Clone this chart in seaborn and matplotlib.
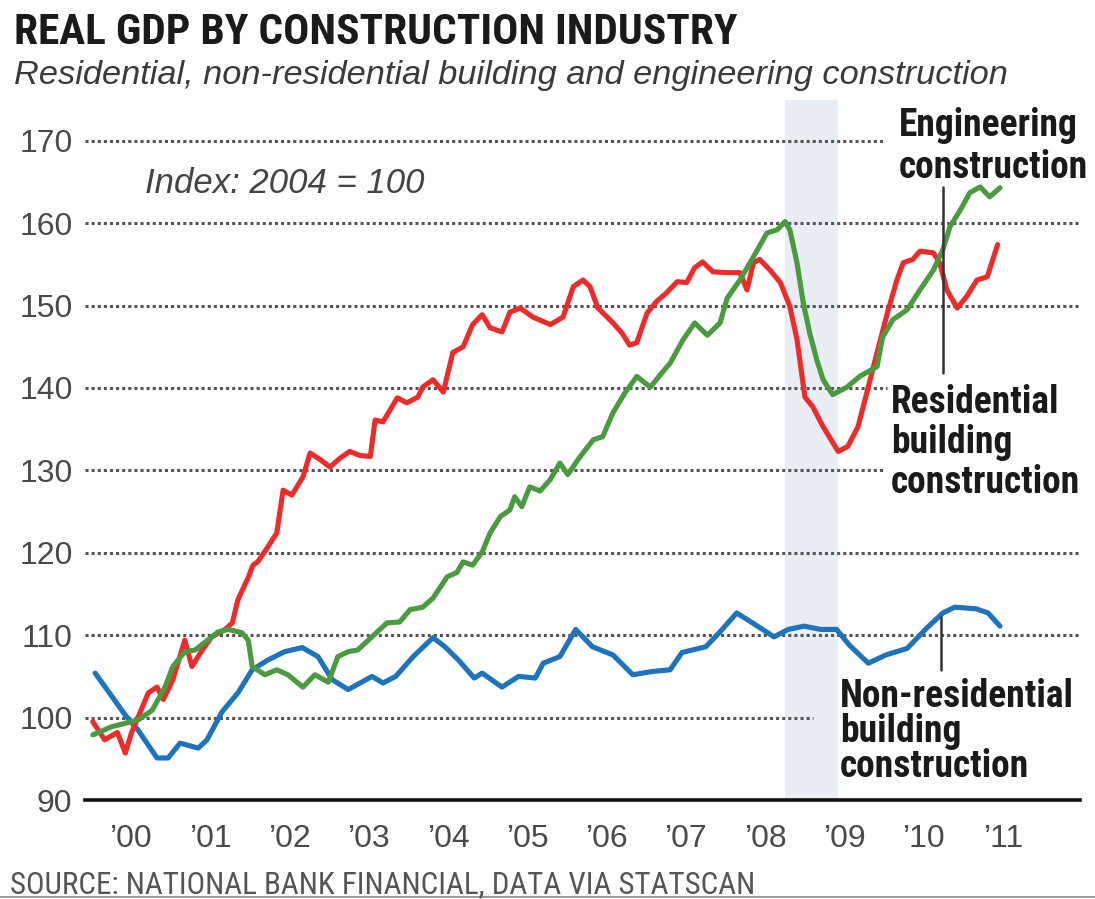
import numpy as np
import matplotlib
matplotlib.use('Agg')
import matplotlib.pyplot as plt
from matplotlib import font_manager as fm
from matplotlib.lines import Line2D
import seaborn as sns

# values (decimal years, index 2004 = 100)
res_t = [2000.01, 2000.16, 2000.32, 2000.42, 2000.50, 2000.61, 2000.71, 2000.82, 2000.90, 2001.02,
         2001.17, 2001.26, 2001.39, 2001.51, 2001.68, 2001.77, 2001.84, 2001.97, 2002.03, 2002.09,
         2002.21, 2002.33, 2002.41, 2002.52, 2002.66, 2002.75, 2002.88, 2003.00, 2003.13, 2003.25,
         2003.38, 2003.51, 2003.57, 2003.67, 2003.85, 2003.97, 2004.11, 2004.17, 2004.30, 2004.43,
         2004.55, 2004.68, 2004.80, 2004.92, 2005.02, 2005.17, 2005.27, 2005.40, 2005.56, 2005.78,
         2005.94, 2006.07, 2006.19, 2006.28, 2006.38, 2006.57, 2006.68, 2006.78, 2006.87, 2007.00,
         2007.12, 2007.25, 2007.38, 2007.50, 2007.60, 2007.70, 2007.83, 2008.01, 2008.17, 2008.26,
         2008.34, 2008.42, 2008.55, 2008.68, 2008.80, 2008.89, 2008.99, 2009.09, 2009.22, 2009.41,
         2009.53, 2009.66, 2009.77, 2009.90, 2010.03, 2010.15, 2010.23, 2010.35, 2010.44, 2010.61,
         2010.69, 2010.78, 2010.91, 2011.03, 2011.16, 2011.29, 2011.36, 2011.42]
res_v = [99.5, 97.3, 98.2, 95.7, 98.2, 100.7, 103.0, 103.7, 102.2, 104.6,
         109.4, 106.2, 108.2, 109.8, 110.7, 111.5, 114.3, 117.0, 118.5, 118.9,
         120.6, 122.4, 127.6, 127.0, 129.2, 132.1, 131.3, 130.4, 131.5, 132.3,
         131.8, 131.7, 136.1, 135.9, 138.8, 138.2, 138.9, 140.1, 141.0, 139.5,
         144.3, 145.0, 147.7, 148.9, 147.3, 146.8, 149.2, 149.7, 148.6, 147.7,
         148.6, 152.3, 153.1, 152.3, 149.7, 147.9, 146.7, 145.2, 145.5, 149.1,
         150.5, 151.6, 152.9, 152.8, 154.6, 155.3, 154.1, 154.0, 154.0, 151.9,
         155.2, 155.6, 154.3, 152.8, 149.9, 145.9, 138.9, 137.7, 135.3, 132.3,
         132.9, 135.3, 139.4, 144.3, 149.1, 153.1, 155.2, 155.6, 156.6, 156.4,
         155.2, 151.9, 149.7, 151.1, 153.1, 153.5, 155.6, 157.4]

eng_t = [2000.01, 2000.25, 2000.58, 2000.76, 2000.92, 2001.02, 2001.17, 2001.30, 2001.42, 2001.59,
         2001.72, 2001.89, 2001.97, 2002.02, 2002.18, 2002.33, 2002.47, 2002.66, 2002.81, 2002.98,
         2003.10, 2003.23, 2003.35, 2003.53, 2003.72, 2003.88, 2004.01, 2004.17, 2004.30, 2004.48,
         2004.60, 2004.68, 2004.80, 2004.92, 2005.02, 2005.15, 2005.27, 2005.33, 2005.42, 2005.52,
         2005.65, 2005.78, 2005.90, 2006.00, 2006.15, 2006.32, 2006.44, 2006.57, 2006.72, 2006.87,
         2007.04, 2007.20, 2007.29, 2007.45, 2007.60, 2007.76, 2007.92, 2008.01, 2008.17, 2008.34,
         2008.51, 2008.64, 2008.74, 2008.80, 2008.89, 2008.97, 2009.05, 2009.14, 2009.22, 2009.34,
         2009.52, 2009.68, 2009.90, 2009.97, 2010.10, 2010.28, 2010.44, 2010.61, 2010.73, 2010.82,
         2010.95, 2011.07, 2011.20, 2011.32, 2011.45]
eng_v = [97.9, 98.9, 99.7, 100.9, 103.7, 106.2, 108.0, 108.2, 109.1, 110.4,
         110.7, 110.3, 109.4, 106.2, 105.2, 105.8, 105.2, 103.7, 105.2, 104.3,
         107.4, 108.0, 108.2, 109.8, 111.5, 111.6, 113.1, 113.4, 114.5, 117.1,
         117.6, 118.9, 118.5, 120.1, 122.4, 124.4, 125.2, 126.8, 125.6, 128.0,
         127.5, 128.9, 130.9, 129.5, 131.6, 133.7, 134.1, 137.0, 139.4, 141.4,
         140.1, 142.0, 143.0, 145.8, 147.9, 146.4, 147.9, 150.9, 153.1, 155.9,
         158.8, 159.2, 160.2, 159.2, 155.2, 150.3, 146.7, 143.4, 141.0, 139.2,
         140.1, 141.4, 142.6, 146.2, 148.3, 149.5, 151.9, 154.3, 156.8, 159.6,
         161.6, 163.7, 164.4, 163.2, 164.3]

nonres_t = [2000.04, 2000.42, 2000.58, 2000.82, 2000.96, 2001.11, 2001.34, 2001.45, 2001.64, 2001.84,
            2002.02, 2002.22, 2002.43, 2002.65, 2002.85, 2003.03, 2003.23, 2003.40, 2003.53, 2003.67,
            2003.83, 2004.05, 2004.30, 2004.45, 2004.62, 2004.82, 2004.92, 2005.17, 2005.38, 2005.59,
            2005.69, 2005.90, 2006.10, 2006.31, 2006.57, 2006.82, 2007.07, 2007.29, 2007.44, 2007.74,
            2007.91, 2008.13, 2008.36, 2008.60, 2008.78, 2008.98, 2009.19, 2009.39, 2009.55, 2009.79,
            2010.01, 2010.28, 2010.53, 2010.73, 2010.88, 2011.15, 2011.30, 2011.45]
nonres_v = [105.4, 100.3, 98.5, 95.1, 95.1, 96.9, 96.3, 97.3, 100.7, 103.0,
            105.8, 107.0, 108.0, 108.5, 107.4, 104.6, 103.4, 104.3, 105.0, 104.2,
            105.0, 107.4, 109.7, 108.6, 107.0, 104.8, 105.4, 103.7, 105.0, 104.8,
            106.6, 107.4, 110.7, 108.6, 107.6, 105.2, 105.6, 105.8, 107.9, 108.6,
            110.3, 112.7, 111.3, 109.8, 110.7, 111.1, 110.7, 110.7, 108.8, 106.6,
            107.6, 108.4, 110.9, 112.7, 113.4, 113.2, 112.7, 111.1]

years = list(range(2000, 2012))
year_labels = ['\u201900', '\u201901', '\u201902', '\u201903', '\u201904', '\u201905',
               '\u201906', '\u201907', '\u201908', '\u201909', '\u201910', '\u201911']
y_ticks = [90, 100, 110, 120, 130, 140, 150, 160, 170]
grid_levels = [100, 110, 120, 130, 140, 150, 160, 170]
recession = (2008.74, 2009.41)

RED, GREEN, BLUE = '#EE2B2B', '#4A9A40', '#1D74BD'
INK = '#1a1a1a'

sns.set_style('white')
plt.rcParams['font.family'] = ['Liberation Sans', 'DejaVu Sans']


def pick_narrow():
    installed = {f.name for f in fm.fontManager.ttflist}
    for n in ['Liberation Sans Narrow', 'Roboto Condensed', 'Open Sans Condensed',
              'Noto Sans Condensed', 'DejaVu Sans Condensed', 'Arial Narrow']:
        if n in installed:
            return n, 'normal'
    for f in fm.fontManager.ttflist:
        if ('Narrow' in f.name or 'Condensed' in f.name) and 'Extra' not in f.name:
            return f.name, 'normal'
    for f in fm.fontManager.ttflist:
        if f.stretch in ('condensed', 'semi-condensed'):
            return f.name, 'condensed'
    return 'Liberation Sans', 'normal'


NARROW, STRETCH = pick_narrow()
NFAM = [NARROW, 'DejaVu Sans']

W, H = 1095, 899
PX = 79.3           # pixels per year
fig = plt.figure(figsize=(W / 100, H / 100), dpi=100)
ax = fig.add_axes([85 / W, (H - 800) / H, 995 / W, 700 / H])
x0 = 2000 + (85 - 92) / PX
x1 = x0 + 995 / PX
ax.set_xlim(x0, x1)
ax.set_ylim(90, 90 + 700 / 8.24)

ax.axvspan(*recession, color='#E9EEF5', lw=0, zorder=0)

# dotted grid, some rows stop short of the labels
grid_end = {170: 2009.97, 140: 2010.03, 130: 2009.97, 100: 2009.09}
for lv in grid_levels:
    ax.plot([x0, grid_end.get(lv, x1)], [lv, lv], color='#555555', lw=2.2,
            ls=(0, (1.0, 1.0)), zorder=1, solid_capstyle='butt')

sns.lineplot(x=nonres_t, y=nonres_v, color=BLUE, lw=3.7, estimator=None, ax=ax, zorder=3)
sns.lineplot(x=res_t, y=res_v, color=RED, lw=3.7, estimator=None, ax=ax, zorder=3)
sns.lineplot(x=eng_t, y=eng_v, color=GREEN, lw=3.7, estimator=None, ax=ax, zorder=3)

# leader lines
ax.plot([2010.73, 2010.73], [141.8, 164.4], color='#333333', lw=1.8, zorder=4)
ax.plot([2010.71, 2010.71], [105.8, 112.2], color='#333333', lw=1.8, zorder=4)

for s in ['left', 'right', 'top']:
    ax.spines[s].set_visible(False)
ax.spines['bottom'].set_linewidth(2.6)
ax.spines['bottom'].set_color('#111111')
ax.set_xticks(years)
ax.set_xticks(np.arange(2000, 2012, 0.25), minor=True)
ax.tick_params(axis='x', which='major', length=10, width=2.2, color='#111111', labelbottom=False)
ax.tick_params(axis='x', which='minor', length=5, width=2.0, color='#111111')
ax.set_yticks(y_ticks)
ax.tick_params(axis='y', length=0, pad=9, labelsize=23, labelcolor='#4a4a4a')
ax.set_xlabel('')
ax.set_ylabel('')

for yr, lab in zip(years, year_labels):
    ax.text(yr + 0.5, (800 - 847) / 700, lab, transform=ax.get_xaxis_transform(),
            ha='center', va='baseline', fontsize=23, color='#4a4a4a')


def ftext(x, y, s, **kw):
    return fig.text(x / W, 1 - y / H, s, ha='left', va='baseline', **kw)


def fit(txt, width):
    r = fig.canvas.get_renderer()
    w = txt.get_window_extent(renderer=r).width
    txt.set_fontsize(txt.get_fontsize() * width / w)


title = ftext(14, 44, 'REAL GDP BY CONSTRUCTION INDUSTRY', family=NFAM, fontstretch=STRETCH,
              fontweight='bold', color=INK, fontsize=30)
sub = ftext(14, 84, 'Residential, non-residential building and engineering construction',
            family=['Liberation Sans', 'DejaVu Sans'], style='italic', color='#3a3a3a', fontsize=24)
idx = ftext(145, 193, 'Index: 2004 = 100', family=['Liberation Sans', 'DejaVu Sans'],
            style='italic', color='#444444', fontsize=24)
src = ftext(10, 893, 'SOURCE: NATIONAL BANK FINANCIAL, DATA VIA STATSCAN',
            family=NFAM, fontstretch=STRETCH, color='#555555', fontsize=20)
fig.canvas.draw()
fit(title, 721)
fit(sub, 998)
fit(idx, 280)
fit(src, 745)

labels = [
    (['Engineering', 'construction'], 899, [136, 178]),
    (['Residential', 'building', 'construction'], 891, [413, 453, 493]),
    (['Non-residential', 'building', 'construction'], 840, [707, 742, 777]),
]
probe = ftext(0, -100, 'construction', family=NFAM, fontstretch=STRETCH,
              fontweight='bold', fontsize=25)
fit(probe, 189)
lab_size = probe.get_fontsize()
probe.remove()
for lines, x, bases in labels:
    for line, b in zip(lines, bases):
        ftext(x, b, line, family=NFAM, fontstretch=STRETCH, fontweight='bold',
              color=INK, fontsize=lab_size)

fig.add_artist(Line2D([0, 1], [1 - 897 / H] * 2, color='#888888', lw=1.2))

fig.savefig('out.png', dpi=100)
